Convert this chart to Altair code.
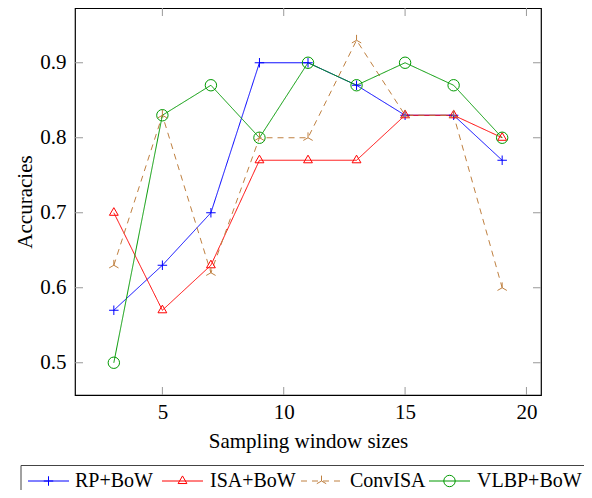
import altair as alt
import pandas as pd

# ---- data ----
window_sizes = [3, 5, 7, 9, 11, 13, 15, 17, 19]
rp_bow = [0.57, 0.63, 0.70, 0.90, 0.90, 0.87, 0.83, 0.83, 0.77]
isa_bow = [0.70, 0.57, 0.63, 0.77, 0.77, 0.77, 0.83, 0.83, 0.80]
conv_isa = [0.63, 0.83, 0.62, 0.80, 0.80, 0.93, 0.83, 0.83, 0.60]
vlbp_bow = [0.50, 0.83, 0.87, 0.80, 0.90, 0.87, 0.90, 0.87, 0.80]
series_names = ["RP+BoW", "ISA+BoW", "ConvISA", "VLBP+BoW"]
x_ticks = [5, 10, 15, 20]
y_ticks = [0.5, 0.6, 0.7, 0.8, 0.9]

# ---- styles ----
colors = ["#0000ff", "#ff0000", "#bf8040", "#009900"]
dashes = [[1, 0], [1, 0], [6, 5], [1, 0]]
shapes = [
    "M-1,0L1,0M0,-1L0,1",
    "M0,-1L0.866,0.5L-0.866,0.5Z",
    "M0,0L0,-1M0,0L-0.866,0.5M0,0L0.866,0.5",
    "circle",
]
sizes = [90, 130, 60, 110]
FONT = "Liberation Serif"
W, H = 466, 387

rows = []
for name, vals in zip(series_names, [rp_bow, isa_bow, conv_isa, vlbp_bow]):
    for xv, yv in zip(window_sizes, vals):
        rows.append({"series": name, "x": xv, "y": yv})
df = pd.DataFrame(rows)

xs = alt.Scale(domain=[1.4, 20.6], nice=False, zero=False)
ys = alt.Scale(domain=[0.457, 0.973], nice=False, zero=False)

xaxis = alt.Axis(values=x_ticks, tickSize=0, domain=False, grid=False,
                 labelFont=FONT, labelFontSize=21, labelColor="black", labelPadding=6,
                 title="Sampling window sizes", titleFont=FONT, titleFontSize=21,
                 titleFontWeight="normal", titleColor="black", titleY=46,
                 titleBaseline="middle")
yaxis = alt.Axis(values=y_ticks, format=".1f", tickSize=0, domain=False, grid=False,
                 labelFont=FONT, labelFontSize=21, labelColor="black", labelPadding=9,
                 title="Accuracies", titleFont=FONT, titleFontSize=21,
                 titleFontWeight="normal", titleColor="black", titleX=-50, titleY=H / 2,
                 titleAngle=270, titleBaseline="middle", titleAlign="center")

X = alt.X("x:Q", scale=xs, axis=xaxis)
Y = alt.Y("y:Q", scale=ys, axis=yaxis)

color = alt.Color("series:N", scale=alt.Scale(domain=series_names, range=colors), legend=None)
dash = alt.StrokeDash("series:N", scale=alt.Scale(domain=series_names, range=dashes), legend=None)
shape = alt.Shape("series:N", scale=alt.Scale(domain=series_names, range=shapes), legend=None)
size = alt.Size("series:N", scale=alt.Scale(domain=series_names, range=sizes), legend=None)

lines = alt.Chart(df).mark_line(strokeWidth=1).encode(x=X, y=Y, color=color, strokeDash=dash)
points = alt.Chart(df).mark_point(filled=False, strokeWidth=1, opacity=1).encode(
    x=X, y=Y, color=color, shape=shape, size=size)

# inner ticks on all four sides
xt = pd.DataFrame({"x": x_ticks})
yt = pd.DataFrame({"y": y_ticks})
TL = 8
tick_col = "#999999"
tb = alt.Chart(xt).mark_rule(color=tick_col, strokeWidth=1).encode(
    x=X, y=alt.value(H), y2=alt.value(H - TL))
tt = alt.Chart(xt).mark_rule(color=tick_col, strokeWidth=1).encode(
    x=X, y=alt.value(0), y2=alt.value(TL))
tl = alt.Chart(yt).mark_rule(color=tick_col, strokeWidth=1).encode(
    y=Y, x=alt.value(0), x2=alt.value(TL))
tr = alt.Chart(yt).mark_rule(color=tick_col, strokeWidth=1).encode(
    y=Y, x=alt.value(W), x2=alt.value(W - TL))

# legend (manual, below the plot)
leg_line_start = [-47, 87, 226, 354]
leg_line_end = [-6, 128, 267, 395]
leg_text_x = [0, 135, 275, 402]
leg = pd.DataFrame({
    "series": series_names,
    "lx1": leg_line_start,
    "lx2": leg_line_end,
    "lm": [(a + b) / 2 for a, b in zip(leg_line_start, leg_line_end)],
    "tx": leg_text_x,
})
LY = 473
box = alt.Chart(pd.DataFrame({"k": [0]})).mark_rect(
    filled=False, stroke="#444444", strokeWidth=1).encode(
    x=alt.value(-54), x2=alt.value(W + 60), y=alt.value(457.5), y2=alt.value(H + 130))
leg_lines = alt.Chart(leg).mark_rule(strokeWidth=1).encode(
    x=alt.X("lx1:Q", scale=None, axis=None), x2=alt.X2("lx2:Q"),
    y=alt.value(LY), color=color, strokeDash=dash)
leg_pts = alt.Chart(leg).mark_point(filled=False, strokeWidth=1, opacity=1).encode(
    x=alt.X("lm:Q", scale=None, axis=None), y=alt.value(LY),
    color=color, shape=shape, size=size)
leg_txt = alt.Chart(leg).mark_text(align="left", baseline="alphabetic", font=FONT,
                                   fontSize=20, color="black").encode(
    x=alt.X("tx:Q", scale=None, axis=None), y=alt.value(479), text="series:N")

chart = alt.layer(tb, tt, tl, tr, lines, points, box, leg_lines, leg_pts, leg_txt).properties(
    width=W, height=H,
    autosize=alt.AutoSizeParams(type="none"),
    padding={"left": 67, "top": 0, "right": 43, "bottom": 95},
).configure_view(stroke="black", strokeWidth=1.2)

chart.save("out.html", embed_options={"renderer": "svg", "actions": False})
